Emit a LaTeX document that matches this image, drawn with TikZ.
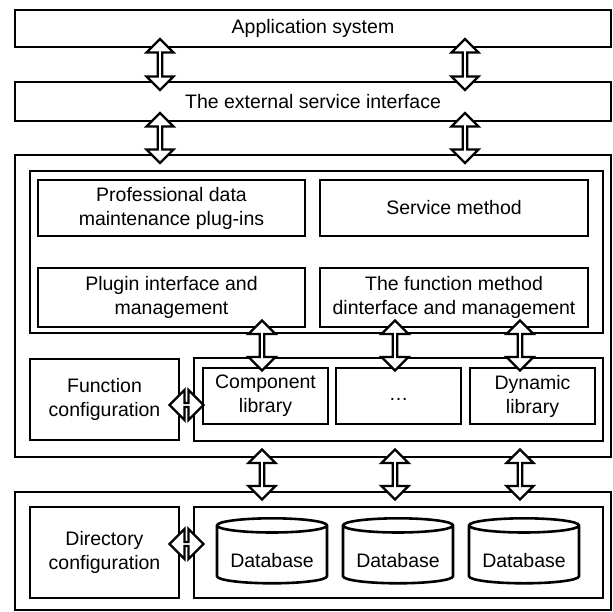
\documentclass[tikz,border=0pt]{standalone}
\usepackage{fontspec}
\setmainfont{Liberation Sans}
\usetikzlibrary{calc, shapes.geometric, shapes.arrows}

\tikzset{
  box/.style={draw, line width=2.6pt, align=center, inner sep=0pt},
  sz/.style 2 args={minimum width=#1, minimum height=#2},
  db/.style={draw, line width=2.6pt, cylinder, shape border rotate=90, aspect=0.17,
    minimum width=110pt, minimum height=65pt, inner sep=0pt, text height=26pt},
  darrow/.style={double arrow, draw, fill=white, line width=2.4pt, inner sep=0pt,
    minimum width=27pt, double arrow head extend=6pt},
  varrow/.style={darrow, rotate=90, minimum height=#1},
  harrow/.style={darrow, minimum width=30pt, double arrow head extend=8pt, minimum height=#1},
}

\begin{document}
\begin{tikzpicture}[x=1pt, y=-1pt, font=\fontsize{19.5}{24}\selectfont]
  \useasboundingbox (0,0) rectangle (613,612);

  % top layers
  \node[box, sz={596pt}{37pt}] (app) at (313,28.5) {Application system};
  \node[box, sz={596pt}{39pt}] (ext) at (313,101.5) {The external service interface};

  % middle layer
  \node[box, sz={596pt}{302pt}] (mid) at (313,306) {};
  \node[box, sz={573pt}{162pt}] (inner) at (316.5,252) {};
  \node[box, sz={267pt}{56pt}] (prof) at (171.5,208) {Professional data\\maintenance plug-ins};
  \node[box, sz={268pt}{56pt}] (serv) at (454,208) {Service method};
  \node[box, sz={267pt}{59pt}] (plug) at (171.5,297.5) {Plugin interface and\\management};
  \node[box, sz={268pt}{59pt}] (func) at (454,297.5) {The function method\\dinterface and management};
  \node[box, sz={149pt}{81pt}] (fconf) at (104.5,399.5) {Function\\configuration};
  \node[box, sz={409pt}{83pt}] (libs) at (398.5,399.5) {};
  \node[box, sz={125pt}{56pt}] (comp) at (265.5,396) {Component\\library};
  \node[box, sz={125pt}{56pt}] (dots) at (398.5,396) {\strut…};
  \node[box, sz={125pt}{56pt}] (dyn) at (532.5,396) {Dynamic\\library};

  % bottom layer
  \node[box, sz={596pt}{118pt}] (bot) at (313,551) {};
  \node[box, sz={149pt}{91pt}] (dconf) at (104.5,552.5) {Directory\\configuration};
  \node[box, sz={409pt}{91pt}] (dbs) at (398.5,552.5) {};
  \node[db] (db1) at (272,555) {Database};
  \node[db] (db2) at (398,555) {Database};
  \node[db] (db3) at (524,555) {Database};

  % links between layers
  \foreach \x in {160,465} {
    \path (app.south -| \x,0) -- (ext.north -| \x,0) node[midway, varrow=51pt] {};
    \path (ext.south -| \x,0) -- (mid.north -| \x,0) node[midway, varrow=50pt] {};
  }
  \foreach \x in {262,395,520} {
    \path (inner.south -| \x,0) -- (libs.north -| \x,0) node[midway, varrow=50pt] {};
    \path (mid.south -| \x,0) -- (bot.north -| \x,0) node[midway, varrow=50pt] {};
  }
  \path (fconf.east |- 0,405) -- (libs.west |- 0,405) node[midway, harrow=34pt] {};
  \path (dconf.east |- 0,544) -- (dbs.west |- 0,544) node[midway, harrow=34pt] {};
\end{tikzpicture}
\end{document}
